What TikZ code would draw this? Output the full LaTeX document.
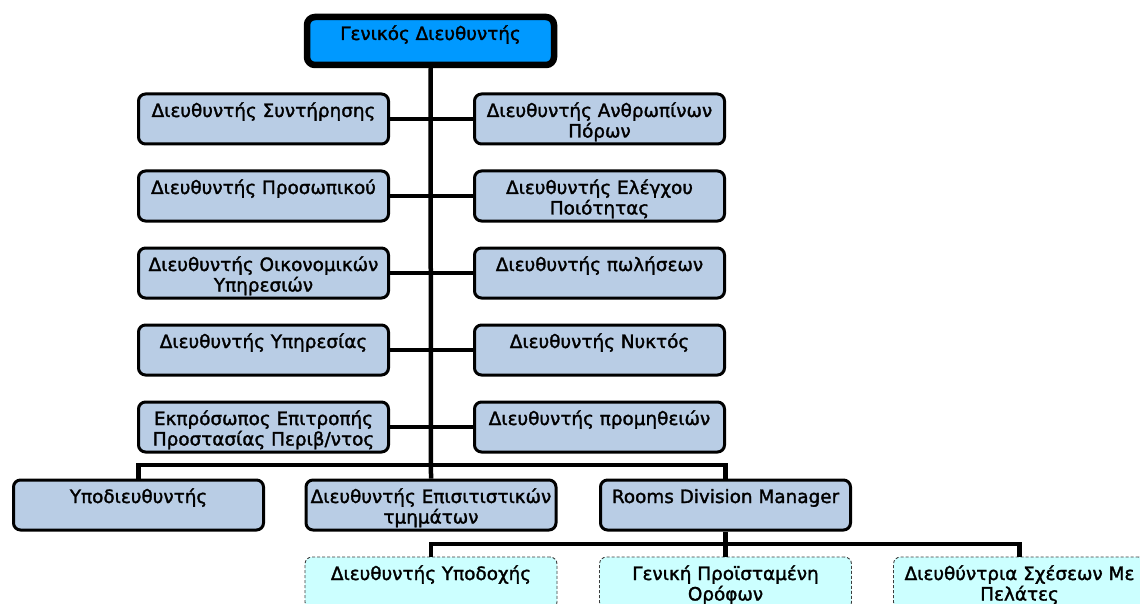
\documentclass[tikz,border=0pt]{standalone}
\usepackage{fontspec}
\setmainfont[FakeBold=1.6]{DejaVu Sans}
\definecolor{boxblue}{RGB}{185,205,229}
\definecolor{topblue}{RGB}{0,153,255}
\definecolor{cyanbox}{RGB}{204,255,255}
\definecolor{dashgray}{RGB}{60,60,60}
\newcommand{\bxt}[3]{\parbox[c][#2][t]{#1}{\centering\fontsize{18.4}{20.5}\selectfont\rule{0pt}{23pt}#3\par}}
\tikzset{
  orgbox/.style={draw=black, line width=3pt, fill=boxblue, rounded corners=7pt, inner sep=0pt},
  topbox/.style={draw=black, line width=6.5pt, fill=topblue, rounded corners=8pt, inner sep=0pt},
  subbox/.style={draw=dashgray, line width=0.9pt, dash pattern=on 3pt off 2pt, fill=cyanbox, rounded corners=7pt, inner sep=0pt},
  conn/.style={draw=black, line width=4.5pt},
}
\begin{document}
\begin{tikzpicture}[x=1pt,y=-1pt]
\useasboundingbox (0,0) rectangle (1140,604);
\clip (0,0) rectangle (1140,604);
% top
\node[topbox] (top) at (430.5,41) {\bxt{247pt}{48pt}{Γενικός Διευθυντής}};
% left column
\node[orgbox] (L1) at (263.5,119) {\bxt{250pt}{50pt}{Διευθυντής Συντήρησης}};
\node[orgbox] (L2) at (263.5,196) {\bxt{250pt}{50pt}{Διευθυντής Προσωπικού}};
\node[orgbox] (L3) at (263.5,273) {\bxt{250pt}{50pt}{Διευθυντής Οικονομικών\\Υπηρεσιών}};
\node[orgbox] (L4) at (263.5,350) {\bxt{250pt}{50pt}{Διευθυντής Υπηρεσίας}};
\node[orgbox] (L5) at (263.5,427) {\bxt{250pt}{50pt}{Εκπρόσωπος Επιτροπής\\Προστασίας Περιβ/ντος}};
% right column
\node[orgbox] (R1) at (599.5,119) {\bxt{250pt}{50pt}{Διευθυντής Ανθρωπίνων\\Πόρων}};
\node[orgbox] (R2) at (599.5,196) {\bxt{250pt}{50pt}{Διευθυντής Ελέγχου\\Ποιότητας}};
\node[orgbox] (R3) at (599.5,273) {\bxt{250pt}{50pt}{Διευθυντής πωλήσεων}};
\node[orgbox] (R4) at (599.5,350) {\bxt{250pt}{50pt}{Διευθυντής Νυκτός}};
\node[orgbox] (R5) at (599.5,427) {\bxt{250pt}{50pt}{Διευθυντής προμηθειών}};
% bottom row
\node[orgbox] (A) at (138.5,505) {\bxt{250pt}{50pt}{Υποδιευθυντής}};
\node[orgbox] (C) at (431,505) {\bxt{250pt}{50pt}{Διευθυντής Επισιτιστικών\\τμημάτων}};
\node[orgbox] (RD) at (725.5,505) {\bxt{250pt}{50pt}{Rooms Division Manager}};
% sub row
\node[subbox] (D1) at (431,583) {\bxt{252pt}{52pt}{Διευθυντής Υποδοχής}};
\node[subbox] (D2) at (725.5,583) {\bxt{252pt}{52pt}{Γενική Προϊσταμένη\\Ορόφων}};
\node[subbox] (D3) at (1019.5,583) {\bxt{252pt}{52pt}{Διευθύντρια Σχέσεων Με\\Πελάτες}};
\coordinate (bus) at (431,465);
\coordinate (bus2) at (725.5,544);
% connectors
\draw[conn] (top.south) -- (C.north);
\draw[conn] (L1.east) -- (R1.west);
\draw[conn] (L2.east) -- (R2.west);
\draw[conn] (L3.east) -- (R3.west);
\draw[conn] (L4.east) -- (R4.west);
\draw[conn] (L5.east) -- (R5.west);
\draw[conn] (A.north) |- (bus) -| (RD.north);
\draw[conn] (RD.south) -- (D2.north);
\draw[conn] (D1.north) |- (bus2) -| (D3.north);
\end{tikzpicture}
\end{document}
